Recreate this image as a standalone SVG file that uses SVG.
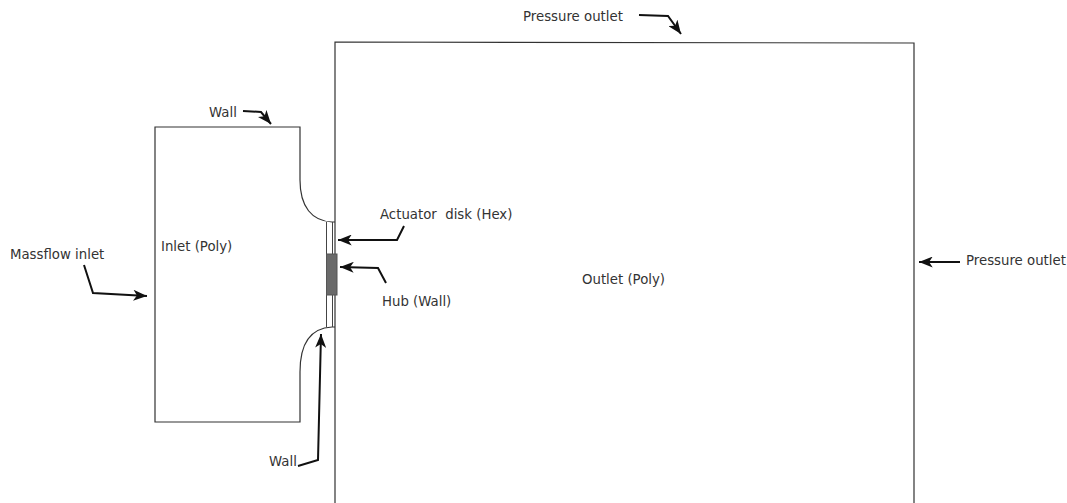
<svg xmlns="http://www.w3.org/2000/svg" width="1067" height="503" viewBox="0 0 1067 503">
<defs>
<marker id="ah" viewBox="0 0 16 12" refX="15" refY="6" markerWidth="15" markerHeight="11" markerUnits="userSpaceOnUse" orient="auto"><path d="M0 0L15 6L0 12L4 6Z" fill="#111"/></marker>
</defs>
<style>
text{font-family:"DejaVu Sans",sans-serif;font-size:13.300px;fill:#333;white-space:pre}
.l{fill:none;stroke:#333;stroke-width:1.2}
.t{fill:none;stroke:#444;stroke-width:1}
.c{fill:none;stroke:#111;stroke-width:2;marker-end:url(#ah)}
</style>
<rect width="1067" height="503" fill="#fff"/>
<g id="outlet"><path class="l" d="M335 503V42L914 43V503"/><text x="582" y="284">Outlet (Poly)</text></g>
<g id="inlet"><path class="l" d="M335 222H332C312 221 300 207 300 180V127H155V422H300V372C300 342 312 328 332 327H335"/><text x="161" y="251">Inlet (Poly)</text></g>
<g id="disk"><path class="t" d="M326.500 222V254M332.500 222V254M326.500 295V327M332.500 295V327"/><rect x="326.500" y="254" width="10.500" height="41" fill="#6a6a6a" stroke="#555"/></g>
<g id="labels">
<text x="209" y="117">Wall</text>
<text x="523" y="21">Pressure outlet</text>
<text x="10" y="259">Massflow inlet</text>
<text x="380" y="219">Actuator  disk (Hex)</text>
<text x="382" y="306">Hub (Wall)</text>
<text x="269" y="466">Wall</text>
<text x="966" y="265">Pressure outlet</text>
</g>
<g id="connectors">
<path class="c" d="M243 111L261 112L271 124"/>
<path class="c" d="M639 15L668 16L681 34"/>
<path class="c" d="M84 265L93 293L147 296"/>
<path class="c" d="M404 226L397 240H338"/>
<path class="c" d="M386 283L378 268L340 267"/>
<path class="c" d="M298 466L318 460L321 334"/>
<path class="c" d="M960 262H919"/>
</g>
</svg>
